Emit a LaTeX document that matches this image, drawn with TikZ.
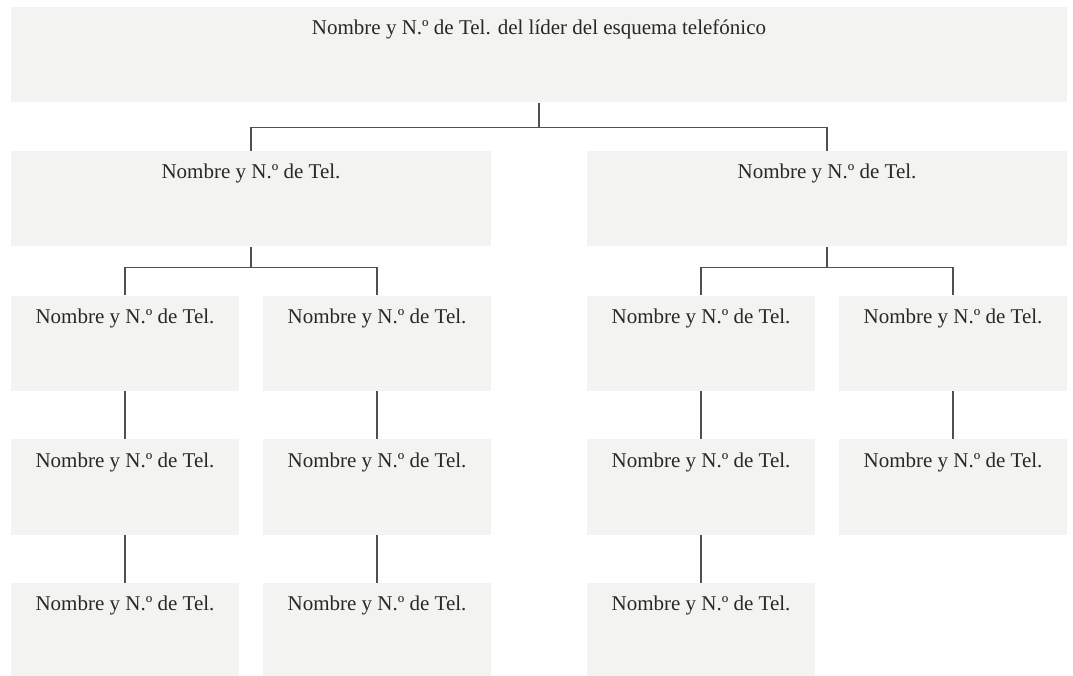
\documentclass[tikz,border=0pt]{standalone}
\usepackage{fontspec}
\setmainfont{Liberation Serif}
\definecolor{boxfill}{RGB}{243,243,241}
\definecolor{linecol}{RGB}{80,80,80}
\definecolor{txtcol}{RGB}{40,40,40}
\begin{document}
\begin{tikzpicture}[x=1pt,y=-1pt,
  box/.style={rectangle, fill=boxfill, draw=none, inner xsep=0pt, inner ysep=0pt,
    text height=28pt, text depth=67.5pt, anchor=north, text=txtcol,
    font=\fontsize{21}{25}\selectfont},
  small/.style={box, minimum width=228pt},
  wide/.style={box, minimum width=480pt},
  conn/.style={draw=linecol, line width=1.2pt}]
\useasboundingbox (0,0) rectangle (1073,676);
\node[box, minimum width=1056pt] (top) at (539,6.7) {Nombre y N.º de Tel. del líder del esquema telefónico};
\node[wide] (l2a) at (251,150.7) {Nombre y N.º de Tel.};
\node[wide] (l2b) at (827,150.7) {Nombre y N.º de Tel.};
\foreach \n/\x in {a/125,b/377,c/701,d/953}{
  \node[small] (l3\n) at (\x,295.3) {Nombre y N.º de Tel.};
}
\foreach \n/\x in {a/125,b/377,c/701,d/953}{
  \node[small] (l4\n) at (\x,439) {Nombre y N.º de Tel.};
}
\foreach \n/\x in {a/125,b/377,c/701}{
  \node[small] (l5\n) at (\x,582.7) {Nombre y N.º de Tel.};
}
\coordinate (j1) at (539,127.7);
\coordinate (j2) at (251,267.7);
\coordinate (j3) at (827,267.7);
\draw[conn] (top.south) -- (j1);
\draw[conn] (l2a.north) |- (j1) -| (l2b.north);
\draw[conn] (l2a.south) -- (j2);
\draw[conn] (l3a.north) |- (j2) -| (l3b.north);
\draw[conn] (l2b.south) -- (j3);
\draw[conn] (l3c.north) |- (j3) -| (l3d.north);
\draw[conn] (l3a.south) -- (l4a.north);
\draw[conn] (l3b.south) -- (l4b.north);
\draw[conn] (l3c.south) -- (l4c.north);
\draw[conn] (l3d.south) -- (l4d.north);
\draw[conn] (l4a.south) -- (l5a.north);
\draw[conn] (l4b.south) -- (l5b.north);
\draw[conn] (l4c.south) -- (l5c.north);
\end{tikzpicture}
\end{document}
